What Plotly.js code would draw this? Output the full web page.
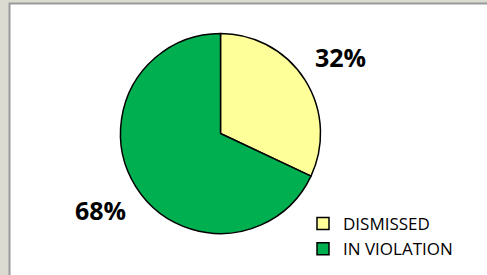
<!DOCTYPE html>
<html>
<head>
<meta charset="utf-8">
<script src="https://cdn.plot.ly/plotly-3.0.1.min.js"></script>
<style>
html,body{margin:0;padding:0;background:#dcdbd2;}
#chart{width:487px;height:275px;}
</style>
</head>
<body>
<div id="chart"></div>
<script>
const categories = ["DISMISSED", "IN VIOLATION"];
const values = [32, 68];
const colors = ["#FFFF99", "#00B050"];

const W = 487, H = 275;
const dom = {x: [120.5 / W, 320.5 / W], y: [41.5 / H, 241.5 / H]};

const trace = {
  type: "pie",
  labels: categories,
  values: values,
  marker: {colors: colors, line: {color: "#000000", width: 1.5}},
  sort: false,
  direction: "clockwise",
  rotation: 0,
  textinfo: "none",
  hoverinfo: "none",
  domain: dom
};

// percentage labels placed outside each slice, derived from the data
const total = values.reduce((a, b) => a + b, 0);
const cx = (dom.x[0] + dom.x[1]) / 2 * W;
const cy = (dom.y[0] + dom.y[1]) / 2 * H;
const R = (dom.x[1] - dom.x[0]) * W / 2;
let cum = 0;
const annotations = values.map(v => {
  const mid = (cum + v / 2) / total * 2 * Math.PI;
  cum += v;
  const d = R * 1.42;
  return {
    xref: "paper", yref: "paper",
    x: (cx + d * Math.sin(mid)) / W,
    y: (cy + d * Math.cos(mid)) / H,
    xanchor: "center", yanchor: "middle",
    text: Math.round(v / total * 100) + "%",
    showarrow: false,
    font: {family: "Open Sans", size: 25, color: "#000000", weight: "bold"}
  };
});

const layout = {
  width: W, height: H,
  margin: {l: 0, r: 0, t: 0, b: 0},
  paper_bgcolor: "rgba(0,0,0,0)",
  plot_bgcolor: "rgba(0,0,0,0)",
  showlegend: true,
  legend: {
    x: 303 / W, y: 1 - 206 / H, xanchor: "left", yanchor: "top",
    font: {family: "Open Sans", size: 17, color: "#000000"},
    bgcolor: "rgba(0,0,0,0)",
    itemwidth: 30,
    tracegroupgap: 0
  },
  annotations: annotations,
  shapes: [{
    type: "rect", xref: "paper", yref: "paper",
    x0: 9.5 / W, x1: 1.05, y0: -0.05, y1: 1 - 3.5 / H,
    fillcolor: "#ffffff", line: {color: "#9a9a9a", width: 2}, layer: "below"
  }]
};

Plotly.newPlot("chart", [trace], layout, {staticPlot: true});
</script>
</body>
</html>
